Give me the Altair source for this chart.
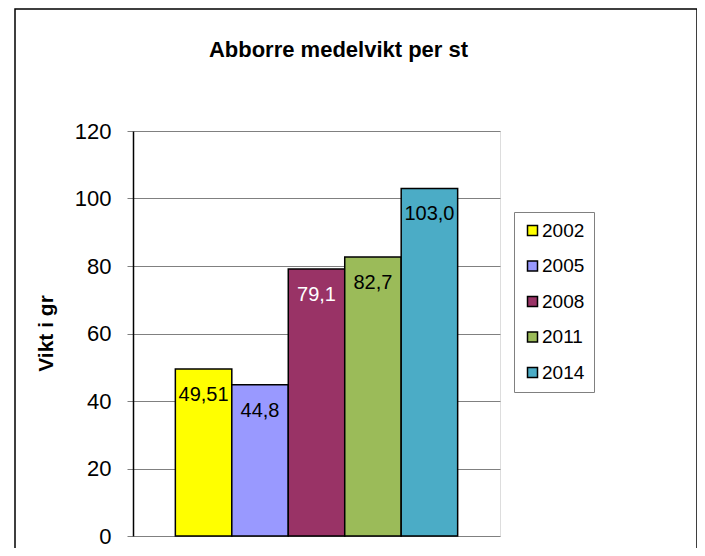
import altair as alt
import pandas as pd

# ---- data ----
years = ["2002", "2005", "2008", "2011", "2014"]
values = [49.51, 44.8, 79.1, 82.7, 103.0]
value_labels = ["49,51", "44,8", "79,1", "82,7", "103,0"]
bar_colors = ["#FFFF00", "#9999FF", "#993366", "#9BBB59", "#4BACC6"]
label_colors = ["black", "black", "white", "black", "black"]
y_tick_values = [0, 10, 20, 30, 40, 50, 60, 70, 80, 90, 100, 110, 120]

FONT = "Liberation Sans, Arial, sans-serif"

df = pd.DataFrame({
    "year": years,
    "value": values,
    "label": value_labels,
    "label_color": label_colors,
})

x_enc = alt.X("year:N", axis=None, sort=years,
              scale=alt.Scale(paddingInner=0, paddingOuter=0.75))
y_enc = alt.Y(
    "value:Q",
    scale=alt.Scale(domain=[0, 120], nice=False),
    axis=alt.Axis(
        values=y_tick_values,
        labelExpr="datum.value % 20 === 0 ? datum.label : ''",
        tickColor={"condition": {"test": "datum.value % 20 !== 0", "value": "transparent"},
                   "value": "#808080"},
        tickSize=6,
        tickWidth=1,
        labelPadding=16,
        labelFont=FONT,
        labelFontSize=22,
        labelColor="black",
        grid=True,
        gridColor="#808080",
        gridWidth=1,
        domainColor="black",
        domainWidth=1.5,
        title="Vikt i gr",
        titleFont=FONT,
        titleFontSize=21,
        titleFontWeight="bold",
        titleColor="black",
        titleAngle=270,
        titleX=-87,
        titleY=202,
        titleAlign="center",
        titleBaseline="middle",
    ),
)

frame = alt.Chart(alt.Data(values=[{"f": 1}])).mark_rect(
    fill="transparent", stroke="black", strokeWidth=1.5
).encode(
    x=alt.value(-118), x2=alt.value(564), y=alt.value(-122), y2=alt.value(440)
)

bars = alt.Chart(df).mark_bar(stroke="black", strokeWidth=1.5).encode(
    x=x_enc,
    y=y_enc,
    color=alt.Color(
        "year:N",
        scale=alt.Scale(domain=years, range=bar_colors),
        legend=alt.Legend(
            title=None,
            orient="none",
            legendX=381,
            legendY=81,
            symbolType="square",
            symbolSize=100,
            symbolStrokeColor="black",
            symbolStrokeWidth=1.5,
            labelFont=FONT,
            labelFontSize=19,
            labelColor="black",
            labelOffset=0,
            strokeColor="#808080",
            fillColor="white",
            padding=9,
            rowPadding=15.5,
        ),
    ),
)

texts = alt.Chart(df).mark_text(
    baseline="middle", dy=26, fontSize=20, font=FONT
).encode(
    x=x_enc,
    y=alt.Y("value:Q"),
    text="label:N",
    color=alt.Color("label_color:N", scale=None),
)

chart = alt.layer(frame, bars, texts).properties(
    width=367,
    height=405,
    padding={"left": 125, "top": 123, "right": 197, "bottom": 12},
    autosize=alt.AutoSizeParams(type="none"),
    title=alt.TitleParams(
        "Abborre medelvikt per st",
        font=FONT,
        fontSize=22,
        fontWeight="bold",
        color="black",
        baseline="alphabetic",
        dx=22,
        offset=-71,
    ),
).configure_view(
    stroke="#808080", strokeWidth=2, fill="#EFEFEF"
).configure(background="white")

chart.save("out.html", embed_options={"renderer": "svg", "actions": False})
